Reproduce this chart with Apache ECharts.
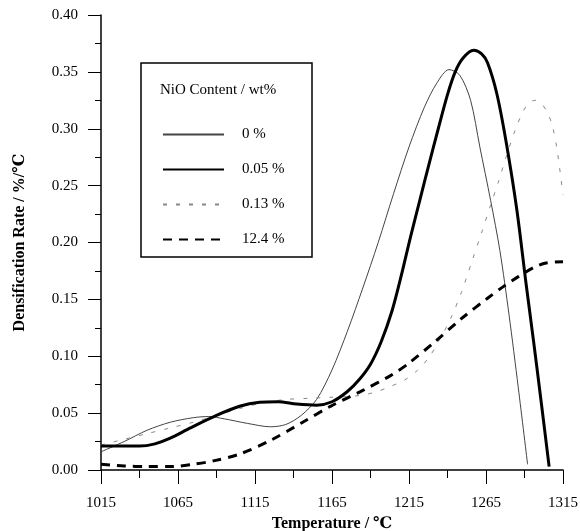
<!DOCTYPE html>
<html>
<head>
<meta charset="utf-8">
<script src="https://cdn.jsdelivr.net/npm/echarts@6/dist/echarts.min.js"></script>
<style>
  html, body { margin: 0; padding: 0; background: #fff; }
  #chart { width: 580px; height: 531px; }
</style>
</head>
<body>
<div id="chart"></div>
<script>
// temperature (℃) and densification rate (%/℃) for each NiO content
var temp0 = [1015, 1030, 1045, 1060, 1075, 1085, 1095, 1110, 1125, 1135, 1145, 1155, 1165, 1175, 1185, 1195, 1205, 1215, 1225, 1233, 1241, 1248, 1255, 1261, 1268, 1274, 1280, 1286, 1292];
var rate0 = [0.016, 0.025, 0.035, 0.042, 0.046, 0.047, 0.045, 0.041, 0.038, 0.040, 0.048, 0.062, 0.088, 0.122, 0.160, 0.200, 0.243, 0.284, 0.319, 0.340, 0.352, 0.347, 0.325, 0.284, 0.237, 0.193, 0.136, 0.072, 0.005];

var temp005 = [1015, 1030, 1040, 1050, 1060, 1073, 1090, 1105, 1118, 1130, 1142, 1155, 1165, 1175, 1183, 1190, 1197, 1204, 1210, 1216, 1222, 1228, 1234, 1240, 1245, 1250, 1257, 1262, 1266, 1272, 1278, 1285, 1291, 1296, 1301, 1306];
var rate005 = [0.021, 0.021, 0.021, 0.023, 0.028, 0.037, 0.048, 0.056, 0.0595, 0.060, 0.058, 0.057, 0.060, 0.069, 0.080, 0.093, 0.113, 0.140, 0.171, 0.205, 0.237, 0.269, 0.300, 0.330, 0.350, 0.362, 0.369, 0.366, 0.358, 0.331, 0.289, 0.229, 0.164, 0.112, 0.058, 0.003];

var temp013 = [1015, 1030, 1045, 1060, 1075, 1090, 1105, 1120, 1135, 1150, 1165, 1180, 1192, 1202, 1212, 1220, 1228, 1235, 1242, 1249, 1256, 1262, 1268, 1273, 1278, 1284, 1289, 1293, 1297, 1301, 1305, 1308, 1311, 1315];
var rate013 = [0.022, 0.027, 0.032, 0.037, 0.042, 0.048, 0.054, 0.059, 0.062, 0.063, 0.064, 0.065, 0.068, 0.073, 0.079, 0.087, 0.099, 0.115, 0.133, 0.156, 0.184, 0.208, 0.233, 0.253, 0.275, 0.299, 0.315, 0.323, 0.325, 0.322, 0.314, 0.303, 0.283, 0.242];

var temp124 = [1015, 1030, 1045, 1062, 1075, 1088, 1105, 1125, 1146, 1164, 1185, 1203, 1215, 1232, 1249, 1266, 1276, 1286, 1296, 1304, 1315];
var rate124 = [0.005, 0.0035, 0.003, 0.003, 0.005, 0.008, 0.014, 0.026, 0.042, 0.056, 0.070, 0.083, 0.094, 0.113, 0.133, 0.151, 0.161, 0.170, 0.178, 0.182, 0.183];

var seriesNames = ["0 %", "0.05 %", "0.13 %", "12.4 %"];
var xTicks = [1015, 1065, 1115, 1165, 1215, 1265, 1315];

function pairs(t, r) {
  var out = [];
  for (var i = 0; i < t.length; i++) {
    out.push([t[i], r[i]]);
  }
  return out;
}

var serif = "'Liberation Serif', 'DejaVu Serif', serif";

var chart = echarts.init(document.getElementById("chart"));
chart.setOption({
  animation: false,
  backgroundColor: "#fff",
  grid: {
    left: 101,
    right: 17,
    top: 15,
    bottom: 61,
    containLabel: false,
    outerBoundsMode: "none"
  },
  xAxis: {
    type: "value",
    min: 1015,
    max: 1315,
    interval: 50,
    name: "Temperature / ℃",
    nameLocation: "middle",
    nameGap: 41,
    nameTextStyle: { fontFamily: serif, fontSize: 16, fontWeight: "bold", color: "#000" },
    axisLine: { show: true, lineStyle: { color: "#000", width: 1.5 } },
    axisTick: { show: true, inside: false, length: 14, lineStyle: { color: "#000", width: 1 } },
    minorTick: { show: true, splitNumber: 2, length: 8, lineStyle: { color: "#000", width: 1 } },
    splitLine: { show: false },
    axisLabel: {
      fontFamily: serif, fontSize: 15, color: "#000", margin: 26,
      formatter: function (v) { return xTicks.indexOf(v) >= 0 ? String(v) : ""; }
    }
  },
  yAxis: {
    type: "value",
    min: 0,
    max: 0.4,
    interval: 0.05,
    name: "Densification Rate / %/℃",
    nameLocation: "middle",
    nameGap: 73,
    nameTextStyle: { fontFamily: serif, fontSize: 16, fontWeight: "bold", color: "#000" },
    axisLine: { show: true, lineStyle: { color: "#000", width: 1.5 } },
    axisTick: { show: true, inside: false, length: 13, lineStyle: { color: "#000", width: 1 } },
    minorTick: { show: true, splitNumber: 2, length: 6, lineStyle: { color: "#000", width: 1 } },
    splitLine: { show: false },
    axisLabel: {
      fontFamily: serif, fontSize: 15, color: "#000", margin: 23,
      formatter: function (v) { return v.toFixed(2); }
    }
  },
  legend: {
    orient: "vertical",
    left: 157,
    top: 122,
    itemWidth: 61,
    itemHeight: 14,
    itemGap: 20,
    data: seriesNames,
    itemStyle: { opacity: 0 },
    textStyle: { fontFamily: serif, fontSize: 15, color: "#000", padding: [0, 0, 0, 13] }
  },
  graphic: [
    {
      type: "rect",
      shape: { x: 141, y: 63, width: 171, height: 194 },
      style: { fill: "#fff", stroke: "#000", lineWidth: 1.5 },
      z: 0
    },
    {
      type: "text",
      left: 160,
      top: 83,
      style: { text: "NiO Content / wt%", fontFamily: serif, fontSize: 15, fill: "#000" },
      z: 1
    }
  ],
  series: [
    {
      name: seriesNames[0],
      type: "line",
      smooth: 0.3,
      showSymbol: false,
      symbol: "none",
      data: pairs(temp0, rate0),
      lineStyle: { color: "#444", width: 1 },
      itemStyle: { color: "#444" },
      z: 5
    },
    {
      name: seriesNames[1],
      type: "line",
      smooth: 0.3,
      showSymbol: false,
      symbol: "none",
      data: pairs(temp005, rate005),
      lineStyle: { color: "#000", width: 3 },
      itemStyle: { color: "#000" },
      z: 6
    },
    {
      name: seriesNames[2],
      type: "line",
      smooth: 0.3,
      showSymbol: false,
      symbol: "none",
      data: pairs(temp013, rate013),
      lineStyle: { color: "#888", width: 1, type: [4, 9] },
      itemStyle: { color: "#888" },
      z: 5
    },
    {
      name: seriesNames[3],
      type: "line",
      smooth: 0.3,
      showSymbol: false,
      symbol: "none",
      data: pairs(temp124, rate124),
      lineStyle: { color: "#000", width: 3, type: [9, 7] },
      itemStyle: { color: "#000" },
      z: 6
    }
  ]
});
</script>
</body>
</html>
